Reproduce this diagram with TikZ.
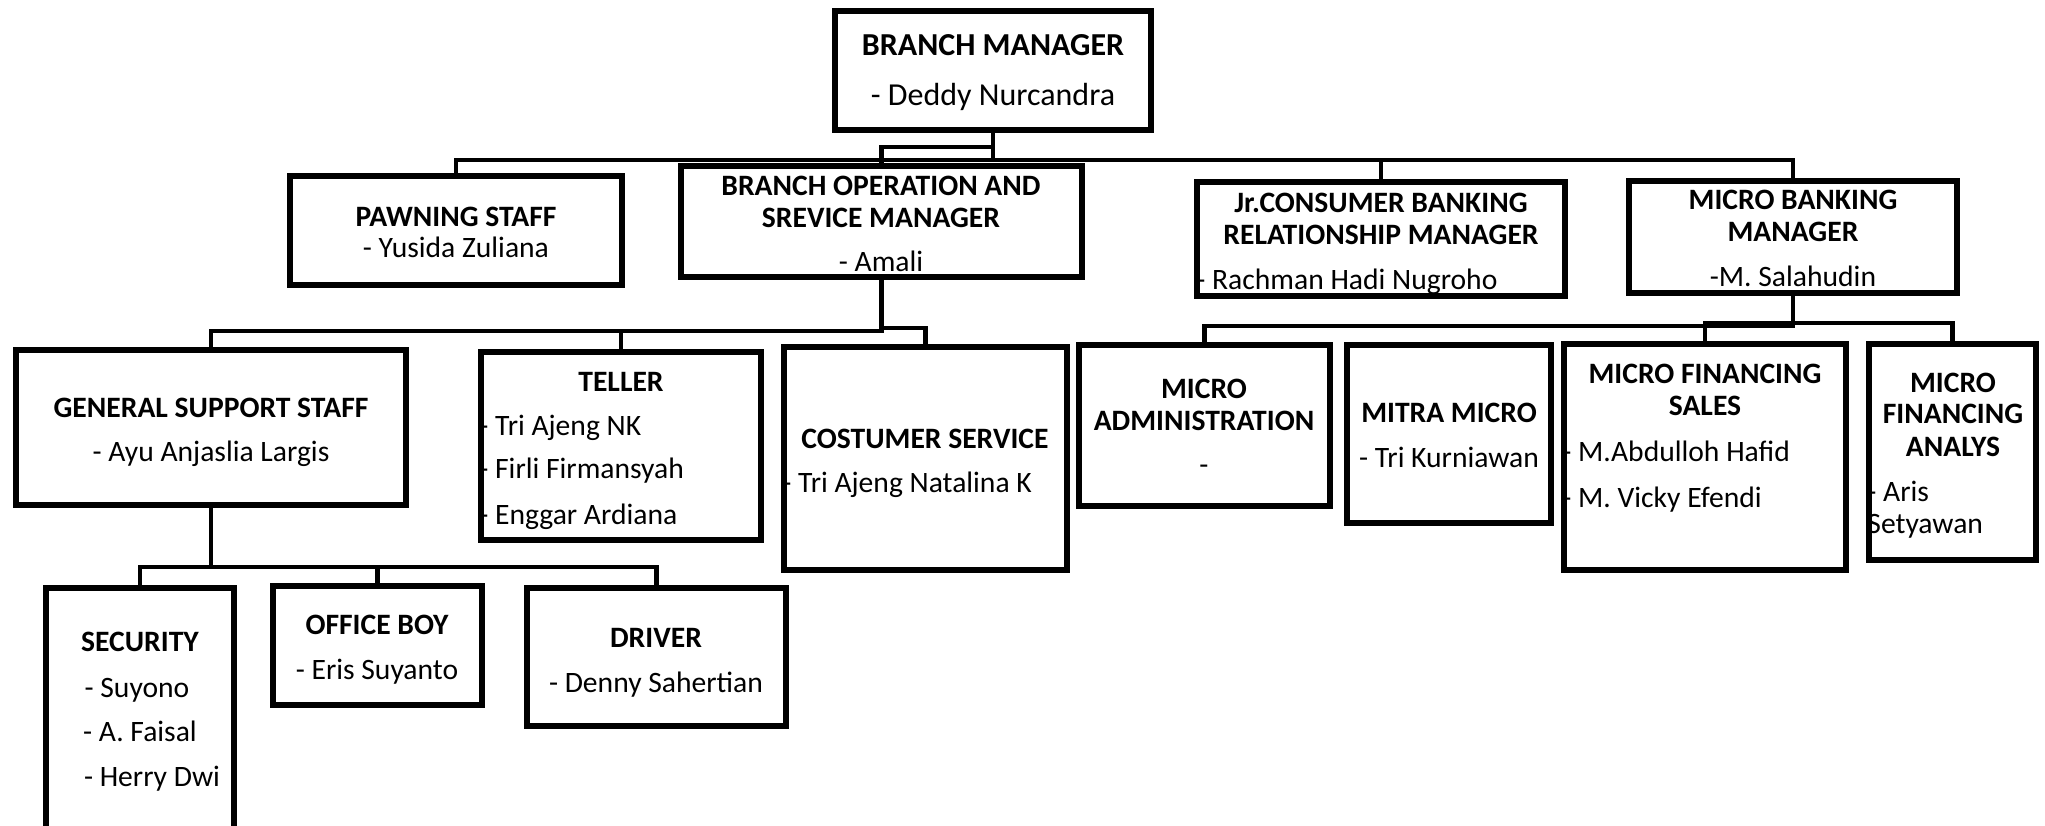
\documentclass[tikz,border=0pt]{standalone}
\usepackage{fontspec}
\setmainfont{Carlito}
\usetikzlibrary{fit}
\begin{document}
\begin{tikzpicture}[x=0.5pt,y=-0.5pt,
 box/.style={draw, line width=2.6pt, inner sep=0pt},
 conn/.style={line width=2.3pt},
 ttl/.style={font=\fontsize{14.8}{17}\selectfont\bfseries, anchor=mid, inner sep=0pt, yshift=-3.2pt},
 nm/.style={font=\fontsize{14.8}{17}\selectfont, anchor=mid, inner sep=0pt, yshift=-3.2pt},
 nml/.style={nm, anchor=mid west},
 bigttl/.style={ttl, font=\fontsize{16}{19}\selectfont\bfseries},
 bignm/.style={nm, font=\fontsize{16}{19}\selectfont}]
\useasboundingbox (0,0) rectangle (2045,825);
\clip (0,0) rectangle (2045,825);

% boxes
\node[box, fit={(835,11) (1151,130)}] (bm) {};
\node[box, fit={(290,176) (622,285)}] (pawn) {};
\node[box, fit={(681,166) (1082,277)}] (bosm) {};
\node[box, fit={(1197,182) (1565,296)}] (jr) {};
\node[box, fit={(1629,181) (1957,293)}] (mbm) {};
\node[box, fit={(16,350) (406,505)}] (gss) {};
\node[box, fit={(481,352) (761,540)}] (tel) {};
\node[box, fit={(784,347) (1067,570)}] (cs) {};
\node[box, fit={(1079,345) (1330,506)}] (madm) {};
\node[box, fit={(1347,345) (1551,523)}] (mitra) {};
\node[box, fit={(1564,344) (1846,570)}] (mfs) {};
\node[box, fit={(1869,344) (2036,560)}] (mfa) {};
\node[box, fit={(46,588) (234,850)}] (sec) {};
\node[box, fit={(273,586) (482,705)}] (ob) {};
\node[box, fit={(527,588) (786,726)}] (drv) {};

% bus levels
\coordinate (b1) at (0,160);
\coordinate (b1a) at (0,147);
\coordinate (b2) at (0,331);
\coordinate (b2a) at (0,328);
\coordinate (b3) at (0,567);
\coordinate (b4) at (0,326);
\coordinate (b4a) at (0,323);

% connectors level 1
\draw[conn] (pawn.north) -- (pawn.north |- b1) -- (mbm.north |- b1) -- (mbm.north);
\draw[conn] (bm.south) -- (bm.south |- b1);
\draw[conn] (jr.north) -- (jr.north |- b1);
\draw[conn] (bosm.north) -- (bosm.north |- b1a) -- (bm.south |- b1a);

% connectors under BOSM
\draw[conn] (bosm.south) -- (bosm.south |- b2) -- (gss.north |- b2) -- (gss.north);
\draw[conn] (tel.north) -- (tel.north |- b2);
\draw[conn] (bosm.south |- b2a) -- (cs.north |- b2a) -- (cs.north);

% connectors under GSS
\draw[conn] (gss.south) -- (gss.south |- b3);
\draw[conn] (sec.north) -- (sec.north |- b3) -- (drv.north |- b3) -- (drv.north);
\draw[conn] (ob.north) -- (ob.north |- b3);

% connectors under MBM
\draw[conn] (mbm.south) -- (mbm.south |- b4) -- (madm.north |- b4) -- (madm.north);
\draw[conn] (mfs.north) -- (mfs.north |- b4a) -- (mfa.north |- b4a) -- (mfa.north);

% texts
\node[bigttl] (bm1) at (993,44) {BRANCH MANAGER};
\node[bignm] (bm2) at (993,94) {- Deddy Nurcandra};

\node[ttl] (pw1) at (456,215) {PAWNING STAFF};
\node[nm] (pw2) at (456,246) {- Yusida Zuliana};

\node[ttl] (bo1) at (881,184) {BRANCH OPERATION AND};
\node[ttl] (bo2) at (881,216) {SREVICE MANAGER};
\node[nm] (bo3) at (881,260) {- Amali};

\node[ttl] (jr1) at (1381,201) {Jr.CONSUMER BANKING};
\node[ttl] (jr2) at (1381,233) {RELATIONSHIP MANAGER};
\node[nml] (jr3) at (1196,278) {- Rachman Hadi Nugroho};

\node[ttl] (mb1) at (1793,198) {MICRO BANKING};
\node[ttl] (mb2) at (1793,230) {MANAGER};
\node[nm] (mb3) at (1793,275) {-M. Salahudin};

\node[ttl] (gs1) at (211,406) {GENERAL SUPPORT STAFF};
\node[nm] (gs2) at (211,450) {- Ayu Anjaslia Largis};

\node[ttl] (te1) at (621,380) {TELLER};
\node[nml] (te2) at (479,424) {- Tri Ajeng NK};
\node[nml] (te3) at (479,467) {- Firli Firmansyah};
\node[nml] (te4) at (479,513) {- Enggar Ardiana};

\node[ttl] (cs1) at (925,437) {COSTUMER SERVICE};
\node[nml] (cs2) at (782,481) {- Tri Ajeng Natalina K};

\node[ttl] (ma1) at (1204,387) {MICRO};
\node[ttl] (ma2) at (1204,419) {ADMINISTRATION};
\node[nm] (ma3) at (1204,463) {-};

\node[ttl] (mi1) at (1449,411) {MITRA MICRO};
\node[nm] (mi2) at (1449,456) {- Tri Kurniawan};

\node[ttl] (fs1) at (1705,372) {MICRO FINANCING};
\node[ttl] (fs2) at (1705,404) {SALES};
\node[nml] (fs3) at (1562,450) {- M.Abdulloh Hafid};
\node[nml] (fs4) at (1562,496) {- M. Vicky Efendi};

\node[ttl] (fa1) at (1953,381) {MICRO};
\node[ttl] (fa2) at (1953,412) {FINANCING};
\node[ttl] (fa3) at (1953,445) {ANALYS};
\node[nml] (fa4) at (1867,490) {- Aris};
\node[nml] (fa5) at (1867,522) {Setyawan};

\node[ttl] (se1) at (140,640) {SECURITY};
\node[nm] (se2) at (137,686) {- Suyono};
\node[nm] (se3) at (140,730) {- A. Faisal};
\node[nm] (se4) at (152,775) {- Herry Dwi};

\node[ttl] (ob1) at (377,623) {OFFICE BOY};
\node[nm] (ob2) at (377,668) {- Eris Suyanto};

\node[ttl] (dr1) at (656,636) {DRIVER};
\node[nm] (dr2) at (656,681) {- Denny Sahertian};
\end{tikzpicture}
\end{document}
